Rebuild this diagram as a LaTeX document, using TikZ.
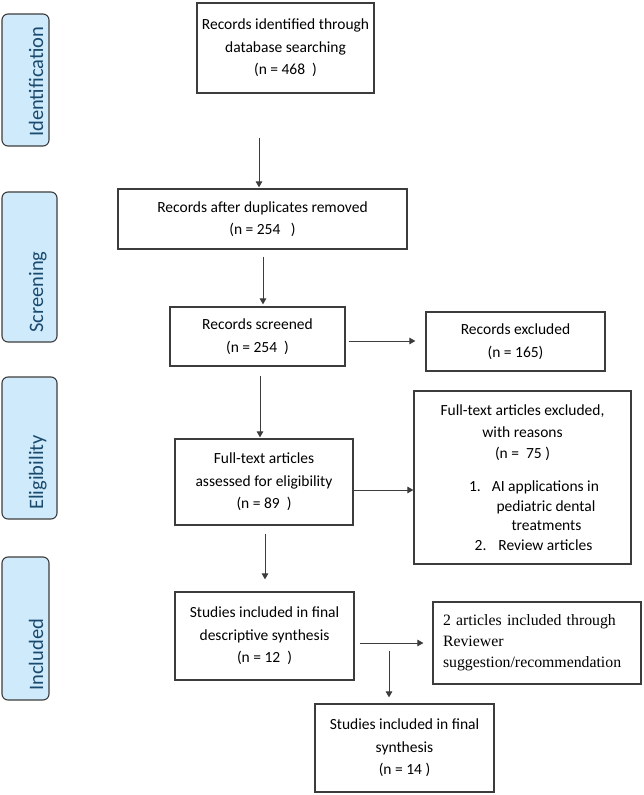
\documentclass[tikz,border=0pt]{standalone}
\usepackage{fontspec}
\setmainfont{Carlito}
\newfontfamily\timesfont{Liberation Serif}
\usetikzlibrary{arrows.meta,positioning}
\definecolor{tabfill}{HTML}{CFEBFB}
\definecolor{tabtext}{HTML}{1A4A6E}
\definecolor{linegray}{HTML}{3C3C3C}

\begin{document}
\begin{tikzpicture}[
        x=1pt,
        y=-1pt,
        box/.style={draw=linegray, line width=1.2pt, align=center, inner sep=0pt,
            font=\fontsize{15.5}{22.5}\selectfont},
        tab/.style={draw=linegray, line width=1.1pt, fill=tabfill, rounded corners=6pt, rotate=90},
        tablab/.style={rotate=90, text=tabtext, inner sep=0pt, font=\fontsize{20.5}{24}\selectfont},
        arr/.style={draw=linegray, line width=1pt, -{Triangle[length=6pt,width=6.5pt]}}
    ]
        \useasboundingbox (0,0) rectangle (644,795);

        % phase tabs on the left
        \foreach \nm/\txt/\xa/\xb/\ya/\yb in {idtab/Identification/2/49/14/146,
                sctab/Screening/2/57/192/342,
                eltab/Eligibility/2/57/377/519,
                intab/Included/2/49/557/700}{
            \node[tab, minimum width={(\yb-\ya)*1pt}, minimum height={(\xb-\xa)*1pt}] (\nm) at ({(\xa+\xb)/2},{(\ya+\yb)/2}) {};
            \node[tablab, anchor=base west] (\nm-lab) at (43,\yb-9) {\txt};
        }

        % main column
        \node[box, minimum width=177pt, minimum height=90pt] (ident) at (285.5,48)
            {Records identified through\\database searching\\(n = 468\ \ )};
        \node[box, minimum width=289pt, minimum height=60pt] (dupl) at (262.5,219)
            {Records after duplicates removed\\(n = 254\ \ \ )};
        \node[box, minimum width=175pt, minimum height=59pt] (screen) at (257.5,336.5)
            {Records screened\\(n = 254\ \ )};
        \node[box, minimum width=178pt, minimum height=86pt] (elig) at (264,482)
            {Full-text articles\\assessed for eligibility\\(n = 89\ \ )};
        \node[box, minimum width=179pt, minimum height=88pt] (desc) at (264.5,636)
            {Studies included in final\\descriptive synthesis\\(n = 12\ \ )};
        \node[box, minimum width=179pt, minimum height=88pt] (final) at (404.5,748)
            {Studies included in final\\synthesis\\(n = 14 )};

        % side boxes
        \node[box, minimum width=179pt, minimum height=59pt] (recex) at (515.5,341.5)
            {Records excluded\\(n = 165)};
        \node[box, minimum width=217pt, minimum height=173pt,
            font=\fontsize{15.5}{21.5}\selectfont] (ftex) at (522.5,477.5)
            {Full-text articles excluded,\\with reasons\\(n = \ 75 )\\[11.5pt]
             \hspace*{23pt}1.\hspace{11pt}AI applications in\\[-2pt]
             \hspace*{47pt}pediatric dental\\[-2pt]
             \hspace*{48pt}treatments\\[-2pt]
             \hspace*{22pt}2.\hspace{12pt}Review articles};
        \node[box, minimum width=208pt, minimum height=82pt, align=left, text width=188pt,
            inner xsep=10pt, font=\timesfont\fontsize{15.8}{21}\selectfont] (added) at (537,643)
            {2 articles included through\\Reviewer\\suggestion/recommendation};

        \coordinate (split) at (389,651);

        % connectors
        \draw[arr, shorten <=44pt, shorten >=1pt] ([xshift=-26.5pt]ident.south) -- ([xshift=-3.5pt]dupl.north);
        \draw[arr, shorten <=7pt, shorten >=2pt] ([xshift=0.5pt]dupl.south) -- ([xshift=5.5pt]screen.north);
        \draw[arr, shorten <=3pt, shorten >=10pt] ([yshift=-4.5pt]screen.east) -- ([yshift=-4.5pt]screen.east -| recex.west);
        \draw[arr, shorten <=9pt, shorten >=1pt] ([xshift=2.5pt]screen.south) -- ([xshift=-4pt]elig.north);
        \draw[arr] ([yshift=-8pt]elig.east) -- ([yshift=-8pt]elig.east -| ftex.west);
        \draw[arr, shorten <=8pt, shorten >=12pt] ([xshift=1pt]elig.south) -- ([xshift=1pt]elig.south |- desc.north);
        \draw[arr, shorten <=5pt, shorten >=9pt] ([yshift=-7pt]desc.east) -- ([yshift=-7pt]desc.east -| added.west);
        \draw[arr, shorten >=6pt] (split) -- (split |- final.north);
    \end{tikzpicture}
\end{document}
